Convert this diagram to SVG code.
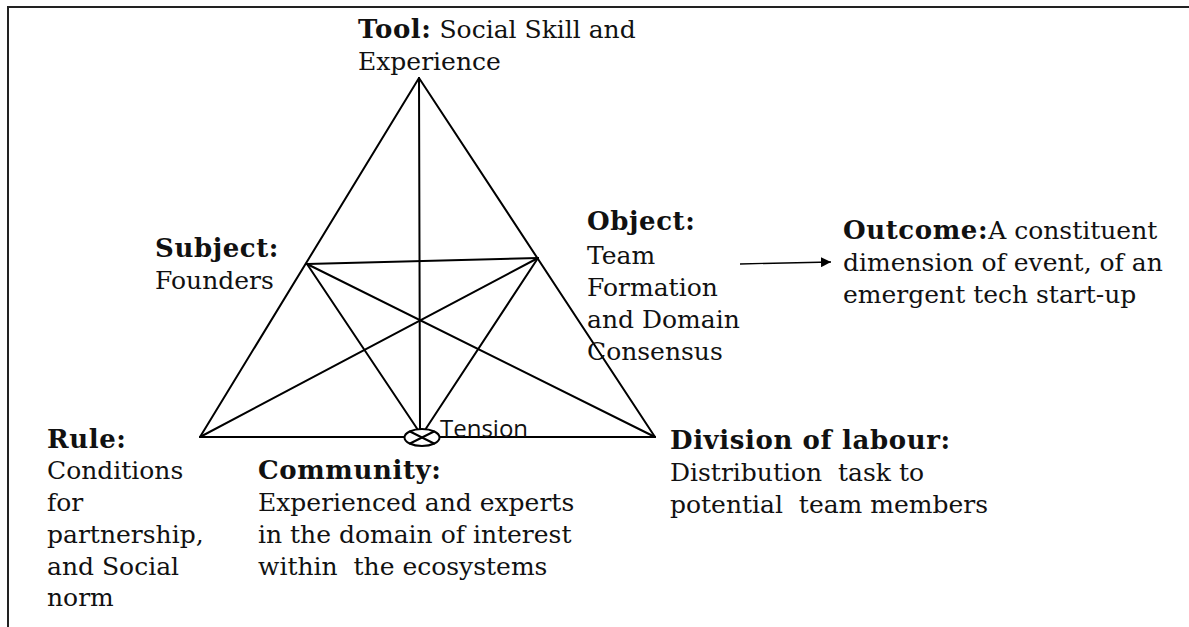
<svg xmlns="http://www.w3.org/2000/svg" width="1189" height="627" viewBox="0 0 1189 627">
<defs>
<style>
.t{font-family:"DejaVu Serif","Liberation Serif",serif;font-size:25px;fill:#111;white-space:pre}
.b{font-weight:bold;font-size:26px;letter-spacing:0.6px}
.s{font-family:"Open Sans","Noto Sans",sans-serif;font-size:24px;fill:#111}
.ln{stroke:#000;stroke-width:2;fill:none;stroke-linecap:round}
</style>
<marker id="ah" viewBox="0 0 10 10" refX="10" refY="5" markerWidth="10" markerHeight="10" markerUnits="userSpaceOnUse" orient="auto">
<path d="M0,0 L10,5 L0,10 z" fill="#000"/>
</marker>
</defs>
<rect width="1189" height="627" fill="#fff"/>
<g id="frame">
<line x1="7" y1="7" x2="1189" y2="7" stroke="#222" stroke-width="2"/>
<line x1="8" y1="7" x2="8" y2="627" stroke="#222" stroke-width="2"/>
</g>
<g id="connectors">
<line class="ln" x1="419" y1="78" x2="200" y2="437"/>
<line class="ln" x1="419" y1="78" x2="655" y2="437"/>
<line class="ln" x1="200" y1="437" x2="655" y2="437"/>
<line class="ln" x1="419" y1="78" x2="420" y2="430"/>
<line class="ln" x1="307" y1="264" x2="538" y2="258"/>
<line class="ln" x1="307" y1="264" x2="655" y2="437"/>
<line class="ln" x1="538" y1="258" x2="200" y2="437"/>
<line class="ln" x1="307" y1="264" x2="418" y2="430"/>
<line class="ln" x1="538" y1="258" x2="425" y2="430"/>
<line x1="740" y1="264" x2="831" y2="262" stroke="#000" stroke-width="1.3" marker-end="url(#ah)"/>
</g>
<g id="tension">
<ellipse cx="422" cy="437.5" rx="17.5" ry="8.5" fill="#fff" stroke="#000" stroke-width="2"/>
<line class="ln" x1="410" y1="431.5" x2="434" y2="443.5"/>
<line class="ln" x1="410" y1="443.5" x2="434" y2="431.5"/>
<text class="s" x="440" y="437">Tension</text>
</g>
<g id="tool">
<text class="t" x="358" y="38"><tspan class="b">Tool:</tspan> Social Skill and</text>
<text class="t" x="358" y="70">Experience</text>
</g>
<g id="subject">
<text class="t b" x="155" y="257">Subject:</text>
<text class="t" x="155" y="289">Founders</text>
</g>
<g id="object">
<text class="t b" x="587" y="230">Object:</text>
<text class="t" x="587" y="264">Team</text>
<text class="t" x="587" y="296">Formation</text>
<text class="t" x="587" y="328">and Domain</text>
<text class="t" x="587" y="360">Consensus</text>
</g>
<g id="outcome">
<text class="t" x="843" y="239"><tspan class="b">Outcome:</tspan>A constituent</text>
<text class="t" x="843" y="271">dimension of event, of an</text>
<text class="t" x="843" y="303">emergent tech start-up</text>
</g>
<g id="rule">
<text class="t b" x="47" y="448">Rule:</text>
<text class="t" x="47" y="479">Conditions</text>
<text class="t" x="47" y="511">for</text>
<text class="t" x="47" y="543">partnership,</text>
<text class="t" x="47" y="575">and Social</text>
<text class="t" x="47" y="606">norm</text>
</g>
<g id="community">
<text class="t b" x="258" y="479">Community:</text>
<text class="t" x="258" y="511">Experienced and experts</text>
<text class="t" x="258" y="543">in the domain of interest</text>
<text class="t" x="258" y="575">within  the ecosystems</text>
</g>
<g id="division">
<text class="t b" x="670" y="449">Division of labour:</text>
<text class="t" x="670" y="481">Distribution  task to</text>
<text class="t" x="670" y="513">potential  team members</text>
</g>
</svg>
